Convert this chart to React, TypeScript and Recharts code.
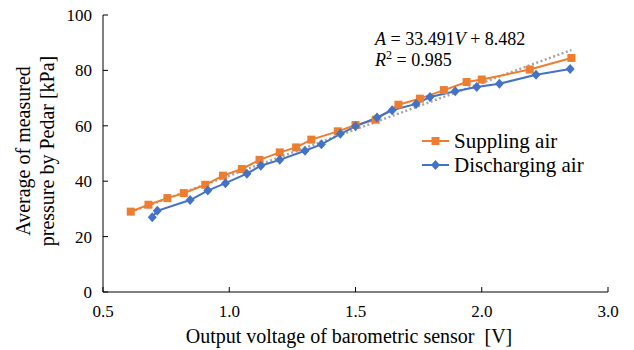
import React from "react";
import { LineChart, Line, XAxis, YAxis, Legend } from "recharts";

// Output voltage [V] and average Pedar pressure [kPa]
const supplyVoltage = [
  0.61, 0.68, 0.755, 0.82, 0.905, 0.975, 1.05, 1.12, 1.2, 1.265, 1.325,
  1.43, 1.5, 1.58, 1.67, 1.755, 1.85, 1.94, 2.0, 2.19, 2.355,
];
const supplyPressure = [
  29.0, 31.5, 33.9, 35.7, 38.7, 42.0, 44.4, 47.7, 50.4, 52.2, 55.0, 58.0,
  60.3, 62.2, 67.6, 69.8, 72.9, 75.8, 76.7, 80.3, 84.5,
];
const dischargeVoltage = [
  0.695, 0.715, 0.845, 0.915, 0.985, 1.07, 1.125, 1.2, 1.3, 1.365, 1.44,
  1.5, 1.585, 1.645, 1.74, 1.795, 1.895, 1.98, 2.07, 2.215, 2.35,
];
const dischargePressure = [
  27.0, 29.3, 33.2, 36.6, 39.3, 42.7, 45.6, 47.7, 51.0, 53.3, 57.1, 59.8,
  63.0, 65.6, 67.9, 70.4, 72.5, 74.0, 75.2, 78.4, 80.5,
];

const xTicks = [0.5, 1.0, 1.5, 2.0, 2.5];
const xTickLabels = ["0.5", "1.0", "1.5", "2.0", "3.0"];
const yTicks = [0, 20, 40, 60, 80, 100];

const trendSlope = 33.491;
const trendIntercept = 8.482;

const ORANGE = "#ED7D31";
const BLUE = "#4472C4";
const GRAY = "#A5A5A5";
const FONT = "Liberation Serif, DejaVu Serif, serif";

const supplyData = supplyVoltage.map((v, i) => ({ v, p: supplyPressure[i] }));
const dischargeData = dischargeVoltage.map((v, i) => ({
  v,
  p: dischargePressure[i],
}));
const vMin = Math.min(...supplyVoltage);
const vMax = Math.max(...supplyVoltage);
const trendData = [vMin, vMax].map((v) => ({
  v,
  p: trendSlope * v + trendIntercept,
}));

const SquareDot = (props: any) => {
  const { cx, cy, index } = props;
  return (
    <rect key={`sq-${index}`} x={cx - 4} y={cy - 4} width={8} height={8} fill={ORANGE} />
  );
};

const DiamondDot = (props: any) => {
  const { cx, cy, index } = props;
  return (
    <path
      key={`dm-${index}`}
      d={`M${cx},${cy - 5} L${cx + 4.5},${cy} L${cx},${cy + 5} L${cx - 4.5},${cy} Z`}
      fill={BLUE}
    />
  );
};

const renderLegend = () => (
  <div style={{ fontFamily: FONT, fontSize: 21, color: "#000", lineHeight: "24px" }}>
    <div style={{ display: "flex", alignItems: "center" }}>
      <svg width={30} height={14}>
        <line x1={1} y1={7} x2={28} y2={7} stroke={ORANGE} strokeWidth={2} />
        <rect x={10.5} y={3} width={8} height={8} fill={ORANGE} />
      </svg>
      <span style={{ marginLeft: 3 }}>Suppling air</span>
    </div>
    <div style={{ display: "flex", alignItems: "center" }}>
      <svg width={30} height={14}>
        <line x1={1} y1={7} x2={28} y2={7} stroke={BLUE} strokeWidth={2} />
        <path d="M14.5,2 L19,7 L14.5,12 L10,7 Z" fill={BLUE} />
      </svg>
      <span style={{ marginLeft: 3 }}>Discharging air</span>
    </div>
  </div>
);

const tickStyle = { fontFamily: FONT, fontSize: 17, fill: "#000" };

export default function App() {
  return (
    <div style={{ position: "absolute", left: 0, top: 0, width: 634, height: 350, background: "#fff", fontFamily: FONT }}>
      <LineChart
        width={634}
        height={350}
        margin={{ top: 15, right: 26, left: 63, bottom: 28 }}
        style={{ fontFamily: FONT }}
      >
        <XAxis
          dataKey="v"
          type="number"
          domain={[0.5, 2.5]}
          ticks={xTicks}
          tickFormatter={(v: number) => xTickLabels[xTicks.indexOf(v)] ?? ""}
          tick={tickStyle}
          tickSize={-5}
          tickMargin={18}
          height={30}
          axisLine={{ stroke: "#000" }}
          tickLine={{ stroke: "#000" }}
          allowDataOverflow
        />
        <XAxis
          xAxisId="top"
          orientation="top"
          type="number"
          domain={[0.5, 2.5]}
          tick={false}
          tickLine={false}
          height={0}
          axisLine={{ stroke: "#000" }}
        />
        <YAxis
          type="number"
          domain={[0, 100]}
          ticks={yTicks}
          tick={tickStyle}
          tickSize={-5}
          tickMargin={16}
          width={40}
          axisLine={{ stroke: "#000" }}
          tickLine={{ stroke: "#000" }}
        />
        <YAxis
          yAxisId="right"
          orientation="right"
          type="number"
          domain={[0, 100]}
          tick={false}
          tickLine={false}
          width={0}
          axisLine={{ stroke: "#404040" }}
        />
        <Line
          data={trendData}
          dataKey="p"
          stroke={GRAY}
          strokeWidth={2.5}
          strokeDasharray="2 2.5"
          dot={false}
          legendType="none"
          isAnimationActive={false}
        />
        <Line
          data={supplyData}
          dataKey="p"
          name="Suppling air"
          stroke={ORANGE}
          strokeWidth={2}
          dot={SquareDot}
          activeDot={false}
          isAnimationActive={false}
        />
        <Line
          data={dischargeData}
          dataKey="p"
          name="Discharging air"
          stroke={BLUE}
          strokeWidth={2}
          dot={DiamondDot}
          activeDot={false}
          isAnimationActive={false}
        />
        <Legend
          layout="vertical"
          align="center"
          verticalAlign="middle"
          content={renderLegend}
          wrapperStyle={{ left: 421, top: 129, width: 200 }}
        />
      </LineChart>
      <svg
        width={634}
        height={350}
        style={{ position: "absolute", left: 0, top: 0, pointerEvents: "none", fontFamily: FONT }}
        fill="#000"
      >
        <text x={375} y={45} fontSize={18}>
          <tspan fontStyle="italic">A</tspan> = 33.491<tspan fontStyle="italic">V</tspan> + 8.482
        </text>
        <text x={375} y={66} fontSize={18}>
          <tspan fontStyle="italic">R</tspan>
          <tspan fontSize={12} dy={-7}>2</tspan>
          <tspan dy={7}> = 0.985</tspan>
        </text>
        <g transform="rotate(-90, 30, 151)">
          <text x={30} y={151} fontSize={20} textAnchor="middle">
            Average of measured
          </text>
        </g>
        <g transform="rotate(-90, 54, 151)">
          <text x={54} y={151} fontSize={20} textAnchor="middle">
            pressure by Pedar [kPa]
          </text>
        </g>
        <text x={349} y={343} fontSize={20} textAnchor="middle">
          {"Output voltage of barometric sensor\u00A0 [V]"}
        </text>
      </svg>
    </div>
  );
}
